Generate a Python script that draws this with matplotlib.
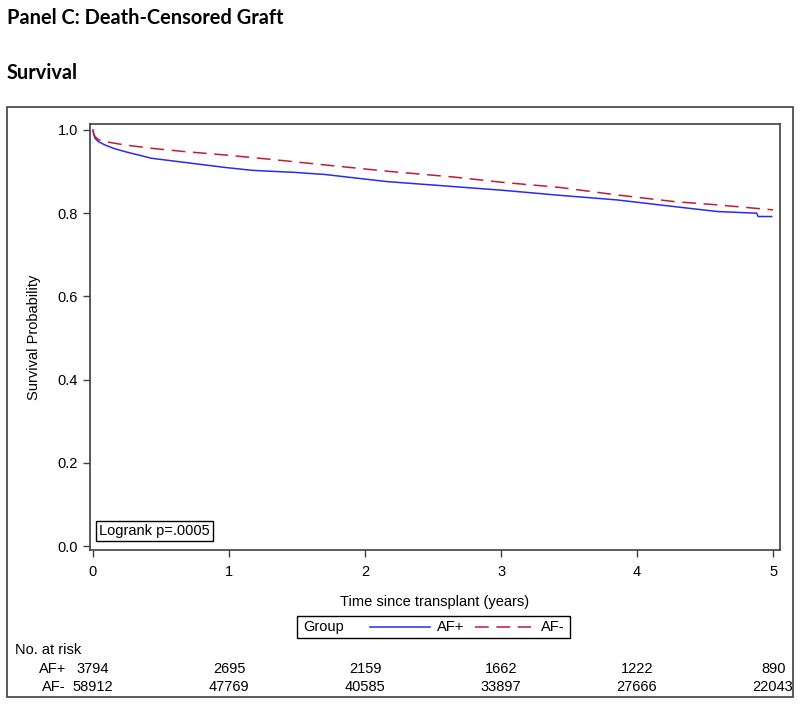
import matplotlib
matplotlib.use("Agg")
import matplotlib.pyplot as plt
from matplotlib.lines import Line2D
from matplotlib.patches import Rectangle
from matplotlib.transforms import blended_transform_factory

W, H = 800, 704

# survival curves (years, probability)
t_pos = [0, 0.005, 0.015, 0.04, 0.088, 0.15, 0.235, 0.43, 0.676, 0.97, 1.17, 1.485, 1.706,
         2.16, 2.65, 3.015, 3.43, 3.85, 4.27, 4.59, 4.88, 4.89, 4.99]
s_pos = [1.0, 0.99, 0.98, 0.972, 0.964, 0.956, 0.948, 0.932, 0.922, 0.910, 0.903, 0.898,
         0.893, 0.876, 0.864, 0.855, 0.843, 0.832, 0.816, 0.804, 0.800, 0.792, 0.792]
t_neg = [0, 0.005, 0.015, 0.04, 0.088, 0.235, 0.43, 0.676, 0.97, 1.29, 1.706, 2.16, 2.65,
         3.015, 3.43, 3.85, 4.27, 4.59, 5.0]
s_neg = [1.0, 0.992, 0.984, 0.977, 0.972, 0.964, 0.956, 0.948, 0.940, 0.930, 0.916, 0.901,
         0.887, 0.874, 0.862, 0.844, 0.828, 0.820, 0.808]

risk_times = [0, 1, 2, 3, 4, 5]
risk_pos = [3794, 2695, 2159, 1662, 1222, 890]
risk_neg = [58912, 47769, 40585, 33897, 27666, 22043]

blue = "#2a2af0"
red = "#c41a35"
frame = "#404040"
font = "Liberation Sans"


def fx(x):
    return x / W


def fy(y):
    return 1 - y / H


fig = plt.figure(figsize=(8, 7.04), dpi=100)

# titles
fig.text(fx(7), fy(18), "Panel C: Death-Censored Graft", family="Lato", weight="bold",
         fontsize=14.4, va="center", ha="left")
fig.text(fx(7), fy(73), "Survival", family="Lato", weight="bold",
         fontsize=14.4, va="center", ha="left")

# outer box
fig.patches.append(Rectangle((fx(7), fy(697)), 786 / W, 590 / H, transform=fig.transFigure,
                             fill=False, edgecolor=frame, linewidth=1.2))

ax = fig.add_axes([fx(90), fy(550), 690 / W, 426 / H])
ax.plot(t_pos, s_pos, color=blue, linewidth=1.1)
ax.plot(t_neg, s_neg, color=red, linewidth=1.1, dashes=(9, 5))
ax.set_xlim(-0.022, 5.051)
ax.set_ylim(-0.0096, 1.0144)
ax.set_xticks(risk_times)
ax.set_yticks([0.0, 0.2, 0.4, 0.6, 0.8, 1.0])
ax.set_yticklabels(["0.0", "0.2", "0.4", "0.6", "0.8", "1.0"])
for sp in ax.spines.values():
    sp.set_color(frame)
    sp.set_linewidth(1.2)
ax.tick_params(colors=frame, labelcolor="black", length=5, width=1, labelsize=10.5)
ax.tick_params(axis="x", pad=6)
for lab in ax.get_xticklabels() + ax.get_yticklabels():
    lab.set_family(font)
ax.set_ylabel("Survival Probability", family=font, fontsize=10.5, labelpad=12)
ax.set_xlabel("Time since transplant (years)", family=font, fontsize=10.5, labelpad=11)

# logrank box
ax.text(0.013, 0.045, "Logrank p=.0005", transform=ax.transAxes, family=font, fontsize=10.5,
        va="center", ha="left",
        bbox=dict(boxstyle="square,pad=0.2", facecolor="white", edgecolor="black", linewidth=1))

# legend drawn by hand
fig.patches.append(Rectangle((fx(297), fy(638)), 273 / W, 22 / H, transform=fig.transFigure,
                             fill=False, edgecolor="black", linewidth=1))
fig.text(fx(303), fy(627), "Group", family=font, fontsize=10.5, va="center")
fig.lines.append(Line2D([fx(370), fx(430)], [fy(627), fy(627)], transform=fig.transFigure,
                        color=blue, linewidth=1.1))
fig.text(fx(437), fy(627), "AF+", family=font, fontsize=10.5, va="center")
fig.lines.append(Line2D([fx(475), fx(531)], [fy(627), fy(627)], transform=fig.transFigure,
                        color=red, linewidth=1.1, dashes=(9, 5)))
fig.text(fx(541), fy(627), "AF-", family=font, fontsize=10.5, va="center")

# numbers at risk
tr = blended_transform_factory(ax.transData, fig.transFigure)
fig.text(fx(15), fy(650), "No. at risk", family=font, fontsize=10.5, va="center")
fig.text(fx(66), fy(669), "AF+", family=font, fontsize=10.5, va="center", ha="right")
fig.text(fx(66), fy(687), "AF-", family=font, fontsize=10.5, va="center", ha="right")
for i, t in enumerate(risk_times):
    if t == 5:
        ax.text(5.095, fy(669), str(risk_pos[i]), transform=tr, family=font, fontsize=10.5,
                va="center", ha="right")
        ax.text(5.147, fy(687), str(risk_neg[i]), transform=tr, family=font, fontsize=10.5,
                va="center", ha="right")
    else:
        ax.text(t, fy(669), str(risk_pos[i]), transform=tr, family=font, fontsize=10.5,
                va="center", ha="center")
        ax.text(t, fy(687), str(risk_neg[i]), transform=tr, family=font, fontsize=10.5,
                va="center", ha="center")

fig.savefig("out.png", dpi=100)
